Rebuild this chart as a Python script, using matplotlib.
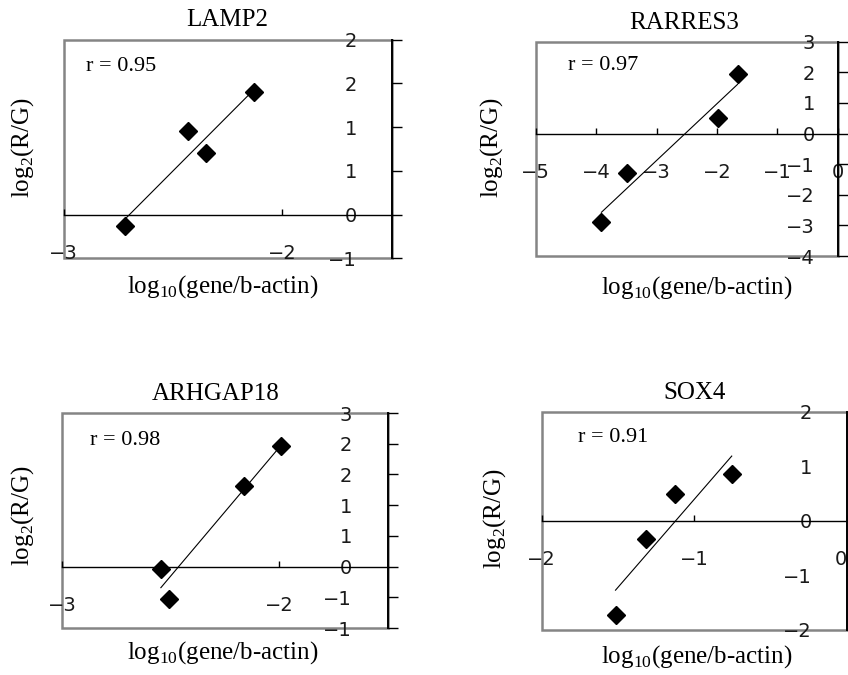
import numpy as np
import matplotlib
matplotlib.use('Agg')
import matplotlib.pyplot as plt
from matplotlib.ticker import MultipleLocator, FuncFormatter

plt.rcParams['font.family'] = 'Liberation Serif'
plt.rcParams['mathtext.fontset'] = 'custom'
plt.rcParams['mathtext.rm'] = 'Liberation Serif'

# 数据
genes = ['LAMP2', 'RARRES3', 'ARHGAP18', 'SOX4']
r_values = [0.95, 0.97, 0.98, 0.91]

lamp2_x = [-2.72, -2.43, -2.35, -2.13]
lamp2_y = [-0.13, 0.95, 0.70, 1.40]

rarres3_x = [-3.91, -3.48, -1.99, -1.66]
rarres3_y = [-2.88, -1.30, 0.50, 1.94]

arhgap18_x = [-2.545, -2.506, -2.164, -1.992]
arhgap18_y = [-0.04, -0.525, 1.31, 1.96]

sox4_x = [-1.516, -1.314, -1.127, -0.754]
sox4_y = [-1.72, -0.34, 0.49, 0.86]

series = [(lamp2_x, lamp2_y), (rarres3_x, rarres3_y),
          (arhgap18_x, arhgap18_y), (sox4_x, sox4_y)]

# 布局 / 坐标轴设置
layout = [
    dict(rect=[0.0749, 0.6173, 0.3870, 0.3241], xlim=(-3, -1.5), ylim=(-0.5, 2),
         xstep=1, ystep=0.5, ygap=25, rpos=(0.07, 0.879), tx=0.5,
         xl=(0.484, -0.127), yl=(-0.126, 0.506), last_right=False),
    dict(rect=[0.6315, 0.6207, 0.3567, 0.3175], xlim=(-5, 0), ylim=(-4, 3),
         xstep=1, ystep=1, ygap=16.5, rpos=(0.107, 0.891), tx=0.49,
         xl=(0.532, -0.145), yl=(-0.144, 0.506), last_right=False),
    dict(rect=[0.0731, 0.0696, 0.3844, 0.3185], xlim=(-3, -1.5), ylim=(-1, 2.5),
         xstep=1, ystep=0.5, ygap=26, rpos=(0.086, 0.874), tx=0.472,
         xl=(0.492, -0.116), yl=(-0.121, 0.523), last_right=False),
    dict(rect=[0.6388, 0.0667, 0.3597, 0.3230], xlim=(-2, 0), ylim=(-2, 2),
         xstep=1, ystep=1, ygap=25, rpos=(0.119, 0.881), tx=0.5,
         xl=(0.508, -0.124), yl=(-0.156, 0.511), last_right=True),
]


def excel_round(v, pos=None):
    """Excel 式四舍五入到整数"""
    n = int(np.sign(v) * np.floor(abs(v) + 0.5 + 1e-9))
    return str(n).replace('-', '\u2212')


def draw_panel(ax, x, y, r, title, s):
    x = np.asarray(x)
    y = np.asarray(y)
    ax.plot(x, y, 'D', color='black', ms=9.5, zorder=3)
    k, b = np.polyfit(x, y, 1)
    xx = np.array([x.min(), x.max()])
    ax.plot(xx, k * xx + b, color='black', lw=0.8, zorder=2)

    ax.set_xlim(*s['xlim'])
    ax.set_ylim(*s['ylim'])
    ax.xaxis.set_major_locator(MultipleLocator(s['xstep']))
    ax.yaxis.set_major_locator(MultipleLocator(s['ystep']))
    ax.xaxis.set_major_formatter(FuncFormatter(excel_round))
    ax.yaxis.set_major_formatter(FuncFormatter(excel_round))

    # 灰色外框 + 黑色坐标轴
    ax.patch.set_edgecolor('#858585')
    ax.patch.set_linewidth(1.8)
    ax.spines['left'].set_visible(False)
    ax.spines['top'].set_visible(False)
    ax.spines['right'].set_color('black')
    ax.spines['right'].set_linewidth(1.4)
    ax.spines['bottom'].set_position(('data', 0))
    ax.spines['bottom'].set_linewidth(1.0)

    ax.yaxis.tick_right()
    ax.tick_params(axis='y', direction='out', length=7, width=1,
                   pad=-(s['ygap'] + 7), labelsize=14,
                   labelfontfamily='DejaVu Sans', labelcolor='#1a1a1a')
    ax.tick_params(axis='x', direction='in', length=4.5, width=1, pad=21,
                   labelsize=14, labelfontfamily='DejaVu Sans',
                   labelcolor='#1a1a1a')

    ax.text(s['rpos'][0], s['rpos'][1], f'r = {r:.2f}', transform=ax.transAxes,
            fontsize=16, ha='left', va='center')
    ax.set_title(title, fontsize=18, pad=9.5, x=s['tx'])

    ax.set_xlabel(r'log$_\mathregular{10}$(gene/b-actin)', fontsize=18)
    ax.xaxis.label.set_va('center')
    ax.xaxis.set_label_coords(*s['xl'])
    ax.set_ylabel(r'log$_\mathregular{2}$(R/G)', fontsize=18)
    ax.yaxis.label.set_va('center')
    ax.yaxis.set_label_coords(*s['yl'])


fig = plt.figure(figsize=(8.48, 6.75), dpi=100)
axes = []
for (x, y), r, title, s in zip(series, r_values, genes, layout):
    ax = fig.add_axes(s['rect'])
    draw_panel(ax, x, y, r, title, s)
    axes.append(ax)

# 先渲染一次, 再调整刻度标签的对齐
fig.canvas.draw()
for ax, s in zip(axes, layout):
    plt.setp(ax.get_yticklabels(), ha='right')
    if s['last_right']:
        for t in ax.get_xticklabels():
            if t.get_text() == '0':
                t.set_ha('right')

fig.savefig('out.png', dpi=100)
plt.close(fig)
